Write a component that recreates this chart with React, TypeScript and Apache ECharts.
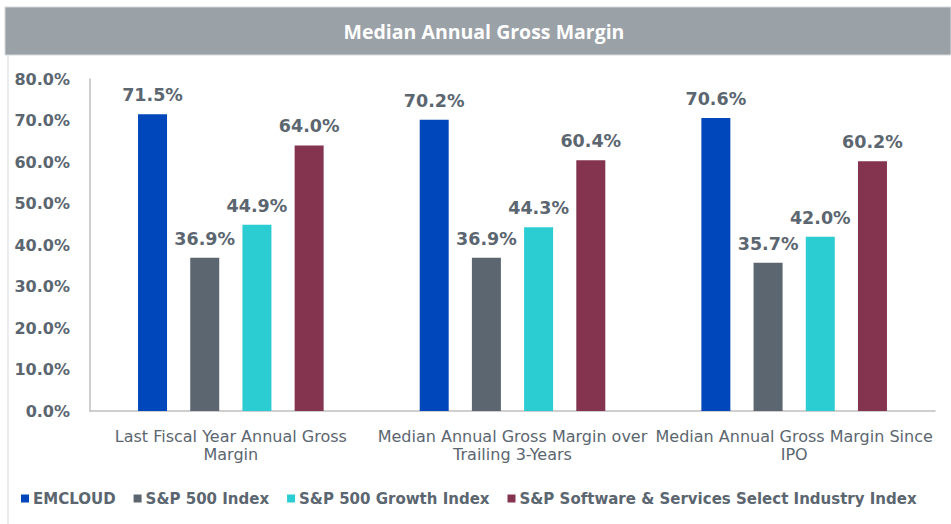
import React, { useEffect, useRef } from "react";
import * as echarts from "echarts";

const title = "Median Annual Gross Margin";
const categories = [
  "Last Fiscal Year Annual Gross\nMargin",
  "Median Annual Gross Margin over\nTrailing 3-Years",
  "Median Annual Gross Margin Since\nIPO",
];
const seriesNames = [
  "EMCLOUD",
  "S&P 500 Index",
  "S&P 500 Growth Index",
  "S&P Software & Services Select Industry Index",
];
const emcloud = [71.5, 70.2, 70.6];
const sp500 = [36.9, 36.9, 35.7];
const sp500Growth = [44.9, 44.3, 42.0];
const spSoftware = [64.0, 60.4, 60.2];
const colors = ["#0047BB", "#5B6670", "#2CCCD3", "#84344E"];
const yTicks = [0, 10, 20, 30, 40, 50, 60, 70, 80];

export default function App() {
  const ref = useRef<HTMLDivElement>(null);
  useEffect(() => {
    if (!ref.current) return;
    const chart = echarts.init(ref.current, undefined, { renderer: "svg" });
    const values = [emcloud, sp500, sp500Growth, spSoftware];
    const textColor = "#5B6670";
    chart.setOption({
      animation: false,
      backgroundColor: "#ffffff",
      graphic: [
        {
          type: "rect",
          shape: { x: 5, y: 7, width: 946, height: 48 },
          style: { fill: "#9AA1A7", stroke: "#D6D9DC", lineWidth: 1 },
        },
        {
          type: "text",
          x: 484,
          y: 31,
          style: {
            text: title,
            fill: "#ffffff",
            font: "bold 19.5px 'Open Sans'",
            align: "center",
            verticalAlign: "middle",
          },
        },
        {
          type: "line",
          shape: { x1: 8, y1: 55, x2: 8, y2: 524 },
          style: { stroke: "#D6D9DC", lineWidth: 1 },
        },
      ],
      legend: {
        left: 16,
        top: 486,
        width: 935,
        icon: "rect",
        itemWidth: 8,
        itemHeight: 8,
        itemGap: 18,
        data: seriesNames,
        textStyle: {
          color: textColor,
          fontFamily: "DejaVu Sans",
          fontWeight: "bold",
          fontSize: 15,
          padding: [0, 0, 0, -1],
        },
      },
      grid: { left: 90, right: 16, top: 79, bottom: 113, containLabel: false },
      xAxis: {
        type: "category",
        data: categories,
        axisLine: { lineStyle: { color: "#BFBFBF", width: 1.5 } },
        axisTick: { show: false },
        axisLabel: {
          color: textColor,
          fontFamily: "DejaVu Sans",
          fontSize: 16,
          lineHeight: 18,
          margin: 16,
          interval: 0,
        },
      },
      yAxis: {
        type: "value",
        min: yTicks[0],
        max: yTicks[yTicks.length - 1],
        interval: 10,
        splitLine: { show: false },
        axisLine: { show: true, lineStyle: { color: "#BFBFBF", width: 1.5 } },
        axisTick: { show: false },
        axisLabel: {
          color: textColor,
          fontFamily: "DejaVu Sans",
          fontWeight: "bold",
          fontSize: 16,
          margin: 20,
          formatter: (v: number) => v.toFixed(1) + "%",
        },
      },
      series: seriesNames.map((name, i) => ({
        name,
        type: "bar",
        data: values[i],
        barWidth: 29,
        barGap: "80%",
        itemStyle: { color: colors[i] },
        label: {
          show: true,
          position: "top",
          distance: 10,
          color: textColor,
          fontFamily: "DejaVu Sans",
          fontWeight: "bold",
          fontSize: 17.5,
          formatter: (p: any) => p.value.toFixed(1) + "%",
        },
      })),
    });
    return () => chart.dispose();
  }, []);
  return <div ref={ref} style={{ width: 951, height: 524, position: "absolute", left: 0, top: 0 }} />;
}
